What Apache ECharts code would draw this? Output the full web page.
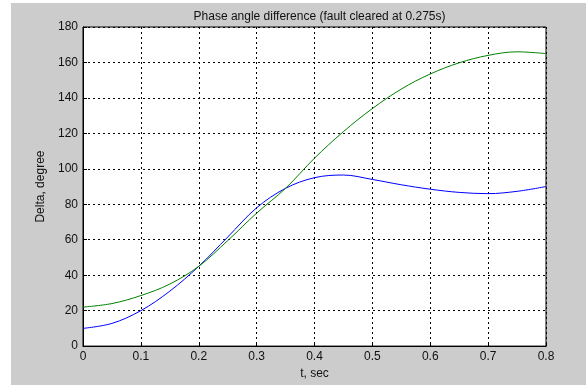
<!DOCTYPE html>
<html>
<head>
<meta charset="utf-8">
<script src="https://cdn.jsdelivr.net/npm/echarts@6/dist/echarts.min.js"></script>
<style>
html,body{margin:0;padding:0;background:#fff;}
#c{width:586px;height:385px;}
</style>
</head>
<body>
<div id="c"></div>
<script>
var titleText = 'Phase angle difference (fault cleared at 0.275s)';
var xName = 't, sec';
var yName = 'Delta, degree';
var tValues = [0, 0.05, 0.1, 0.15, 0.2, 0.25, 0.3, 0.35, 0.4, 0.45, 0.5, 0.55, 0.6, 0.65, 0.7, 0.75, 0.8];
var blueDelta = [10, 12.8, 20, 31, 45, 61.5, 78, 89, 95, 96.5, 94, 91, 88.5, 86.7, 86, 87.3, 90];
var greenDelta = [22, 24, 28.5, 35, 45, 59.5, 75, 89, 106, 121, 134, 145, 153.5, 159.8, 164, 166, 165];

function pairs(xs, ys) { return xs.map(function (x, i) { return [x, ys[i]]; }); }

var chart = echarts.init(document.getElementById('c'), null, {renderer: 'canvas'});
var font = 'Liberation Sans, Arial, sans-serif';
var gridDash = {color: '#000', width: 1, type: [2, 3]};
chart.setOption({
  backgroundColor: '#cccccc',
  animation: false,
  graphic: [
    {type: 'rect', left: 0, top: 0, shape: {width: 11, height: 385}, style: {fill: '#ffffff'}, silent: true},
    {type: 'rect', left: 0, top: 0, shape: {width: 586, height: 3}, style: {fill: '#ffffff'}, silent: true}
  ],
  title: {
    text: titleText, left: 314.5, textAlign: 'center', top: 6,
    textStyle: {fontFamily: font, fontSize: 12, fontWeight: 'normal', color: '#111'}
  },
  grid: {left: 83, right: 40, top: 27, bottom: 34, show: true, backgroundColor: '#fff', borderColor: '#000', borderWidth: 1},
  xAxis: {
    type: 'value', min: 0, max: 0.8, interval: 0.1,
    name: xName, nameLocation: 'middle', nameGap: 21,
    nameTextStyle: {fontFamily: font, fontSize: 12, color: '#111'},
    axisLine: {show: true, lineStyle: {color: '#000'}},
    axisTick: {show: true, inside: true, length: 4, lineStyle: {color: '#000'}},
    axisLabel: {fontFamily: font, fontSize: 12, color: '#111', margin: 5, formatter: function (v) { return +v.toFixed(1) + ''; }},
    splitLine: {show: true, lineStyle: gridDash}
  },
  yAxis: {
    type: 'value', min: 0, max: 180, interval: 20,
    name: yName, nameLocation: 'middle', nameGap: 36,
    nameTextStyle: {fontFamily: font, fontSize: 12, color: '#111'},
    axisLine: {show: true, lineStyle: {color: '#000'}},
    axisTick: {show: true, inside: true, length: 4, lineStyle: {color: '#000'}},
    axisLabel: {fontFamily: font, fontSize: 12, color: '#111', margin: 5},
    splitLine: {show: true, lineStyle: gridDash}
  },
  series: [
    {type: 'line', data: pairs(tValues, blueDelta), smooth: 0.35, showSymbol: false, lineStyle: {color: '#0000ff', width: 1}, z: 3},
    {type: 'line', data: pairs(tValues, greenDelta), smooth: 0.35, showSymbol: false, lineStyle: {color: '#008000', width: 1}, z: 3}
  ]
});
</script>
</body>
</html>
